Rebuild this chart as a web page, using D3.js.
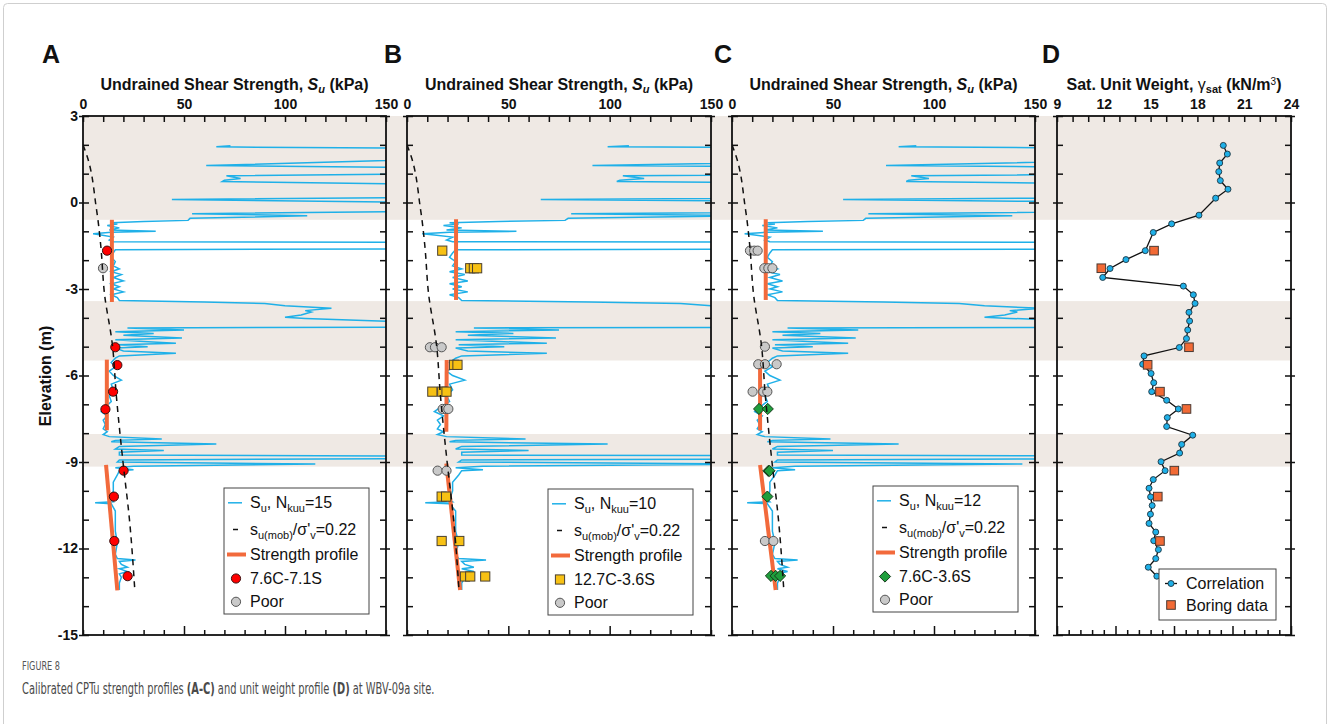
<!DOCTYPE html>
<html lang="en">
<head>
<meta charset="utf-8">
<title>WBV-09a - calibrated CPTu strength profiles</title>
<script type="text/javascript" src="https://cdnjs.cloudflare.com/ajax/libs/d3/7.8.5/d3.min.js"></script>
<style>

body {
  margin: 0;
  background-color: #fff;
}

svg text {
  font-family: "Liberation Sans", Arial, sans-serif;
  fill: #111;
}

.title {
  font-size: 16px;
  font-weight: bold;
}

.tick text {
  font-size: 14px;
  font-weight: bold;
}

.tick line {
  stroke: #111;
  stroke-width: 1.5;
}

.legend text {
  font-size: 16px;
}

.caption text, text.caption {
  font-family: "Liberation Sans Narrow", "DejaVu Sans Condensed", sans-serif;
}

</style>
</head>
<body>

<div id="chart"></div>

<script type="text/javascript">

// elevation (m) and the soft layers shaded in grey
var elevTicks = d3.range(3, -15.5, -1);
var softBands = [[3, -0.6], [-3.42, -5.48], [-8.03, -9.16]];

// Su ticks (kPa) and unit weight ticks (kN/m3)
var suTicks = d3.range(0, 151, 10);
var gammaTicks = d3.range(9, 24.5, 1);

// Nkuu used in each of the panels A-C, and the boring labels
var nkuu = [15, 10, 12];
var boringLabels = ["7.6C-7.1S", "12.7C-3.6S", "7.6C-3.6S"];

// CPTu Su profile read at Nkuu = 15 : [elevation, Su]
var nkuuRef = 15;
var suRef = [
  [1.97, 73], [1.93, 66], [1.86, 200],
  [1.55, 200], [1.28, 61], [1.19, 200],
  [1.01, 200], [0.93, 71], [0.83, 78], [0.77, 70], [0.73, 69], [0.6, 200],
  [0.2, 200], [0.1, 44], [-0.02, 200],
  [-0.28, 200], [-0.39, 54], [-0.46, 111], [-0.55, 53], [-0.62, 52], [-0.66, 30], [-0.7, 14],
  [-0.75, 17], [-0.8, 12], [-0.88, 18], [-0.95, 13], [-1.0, 36], [-1.03, 14], [-1.08, 5], [-1.13, 9],
  [-1.2, 15], [-1.3, 13], [-1.36, 15], [-1.39, 200],
  [-1.6, 200], [-1.64, 16], [-1.75, 15], [-1.9, 14], [-2.05, 16], [-2.2, 15], [-2.3, 18], [-2.4, 14],
  [-2.5, 19], [-2.6, 15], [-2.72, 20], [-2.82, 14], [-2.92, 18], [-3.0, 15], [-3.1, 20], [-3.2, 14], [-3.3, 17],
  [-3.4, 18], [-3.45, 60], [-3.5, 90], [-3.58, 100], [-3.67, 123], [-3.75, 110], [-3.8, 113], [-3.9, 108],
  [-3.98, 100], [-4.02, 110], [-4.25, 200],
  [-4.32, 200], [-4.35, 22], [-4.42, 50], [-4.48, 16], [-4.54, 35], [-4.6, 20], [-4.7, 49], [-4.76, 16],
  [-4.82, 30], [-4.88, 46], [-4.93, 17], [-5.0, 32], [-5.05, 16], [-5.15, 20], [-5.23, 46], [-5.32, 18], [-5.4, 16],
  [-5.55, 14], [-5.7, 16], [-5.85, 13], [-6.0, 15], [-6.16, 19], [-6.3, 14], [-6.5, 15], [-6.7, 13], [-6.9, 14],
  [-7.1, 11], [-7.25, 9], [-7.4, 12], [-7.55, 10], [-7.7, 11], [-7.85, 10], [-7.95, 12],
  [-8.05, 10], [-8.12, 13], [-8.2, 39], [-8.25, 16], [-8.3, 14], [-8.38, 66], [-8.46, 18], [-8.55, 16],
  [-8.6, 40], [-8.66, 18], [-8.76, 18], [-8.8, 200], [-8.87, 200], [-8.93, 18], [-9.0, 17], [-9.07, 115],
  [-9.15, 25], [-9.2, 16],
  [-9.27, 25], [-9.3, 18], [-9.45, 17], [-9.7, 15], [-10.0, 15], [-10.3, 14], [-10.38, 15], [-10.41, 6],
  [-10.45, 14], [-10.7, 16], [-11.0, 16], [-11.4, 16], [-11.8, 17], [-12.2, 16], [-12.35, 17], [-12.4, 26],
  [-12.45, 18], [-12.55, 19], [-12.65, 22], [-12.7, 18], [-12.8, 22], [-12.88, 18], [-13.0, 19], [-13.2, 18], [-13.44, 18]
];

// su(mob)/sigma'v = 0.22 : [elevation, Su]
var suMob = [
  [2.0, 0], [1.5, 2.5], [1.0, 4.2], [0.5, 5.3], [0, 6.2], [-0.6, 7.4], [-1.5, 8.8], [-3.2, 10.7],
  [-4.9, 14.5], [-6.7, 16.5], [-7.8, 18], [-9.0, 19.8], [-11.0, 23], [-13.5, 25.7]
];

// strength profile segments : [[elev, Su], [elev, Su]]
var profileA = [[[-0.6, 14.3], [-3.45, 14.3]], [[-5.45, 11.8], [-7.9, 11.8]], [[-9.1, 11.4], [-13.45, 17]]];
var profileB = [[[-0.58, 24.2], [-3.38, 24.2]], [[-5.46, 19.6], [-7.95, 19.4]], [[-9.05, 19.4], [-13.44, 26.2]]];
var profileC = [[[-0.58, 16.7], [-3.38, 16.7]], [[-5.46, 13.9], [-7.9, 13.9]], [[-9.1, 13.9], [-13.44, 21.6]]];

// lab Su from borings : [elevation, Su]
var goodA = [[-1.67, 11.9], [-5.02, 16], [-5.64, 17], [-6.56, 14.9], [-7.17, 11.1], [-9.3, 20.1], [-10.2, 15.3], [-11.74, 15.5], [-12.96, 22.1]];
var poorA = [[-2.28, 9.9]];
var goodB = [[-1.67, 17.4], [-2.28, 31.2], [-2.28, 33], [-2.28, 34.6], [-5.63, 23.2], [-5.63, 24.9], [-6.56, 12.5], [-6.56, 17.4],
  [-6.56, 19.5], [-10.2, 17.1], [-10.2, 19.3], [-11.74, 17.1], [-11.74, 25.8], [-12.97, 28.6], [-12.97, 31.2], [-12.97, 38.6]];
var poorB = [[-5.02, 11.3], [-5.02, 13.8], [-5.02, 17.1], [-7.16, 17.6], [-7.16, 19.3], [-7.16, 20.4], [-9.3, 15.1], [-9.3, 19.5]];
var goodC = [[-7.16, 13.4], [-7.16, 17.7], [-9.31, 18], [-9.31, 18.6], [-10.2, 17.5], [-12.95, 19.3], [-12.95, 21.6], [-12.95, 23.8]];
var poorC = [[-1.67, 8.9], [-1.67, 11], [-1.67, 12.7], [-2.28, 16], [-2.28, 18], [-2.28, 20], [-5.0, 16.3], [-5.61, 13],
  [-5.61, 16.3], [-5.61, 22.1], [-6.56, 10.2], [-6.56, 15.5], [-6.56, 17.5], [-11.74, 16.3], [-11.74, 20.5]];

// saturated unit weight : [elevation, gamma]
var gammaCorr = [
  [1.98, 19.66], [1.68, 19.92], [1.37, 19.43], [1.07, 19.37], [0.76, 19.47], [0.46, 19.96], [0.15, 19.17],
  [-0.44, 18.1], [-0.74, 16.35], [-1.04, 15.17], [-1.67, 14.66], [-1.98, 13.42], [-2.29, 12.4], [-2.6, 11.93],
  [-2.9, 17.1], [-3.2, 17.74], [-3.5, 17.85], [-3.81, 17.46], [-4.11, 17.5], [-4.42, 17.38], [-4.72, 17.3],
  [-5.03, 16.84], [-5.32, 14.58], [-5.61, 14.49], [-5.93, 15.03], [-6.25, 15.2], [-6.56, 15.07], [-6.86, 16.03],
  [-7.16, 16.78], [-7.46, 16.07], [-7.77, 16.03], [-8.07, 17.7], [-8.39, 16.99], [-8.69, 16.86], [-8.99, 15.67],
  [-9.3, 15.93], [-9.61, 15.17], [-9.91, 14.9], [-10.21, 15.0], [-10.51, 15.1], [-10.81, 14.99], [-11.13, 14.9],
  [-11.43, 15.33], [-11.73, 15.2], [-12.04, 15.5], [-12.35, 15.33], [-12.65, 14.85], [-12.96, 15.4]
];
var gammaBoring = [[-1.67, 15.22], [-2.28, 11.84], [-5.02, 17.46], [-5.63, 14.81], [-6.56, 15.6], [-7.16, 17.3], [-9.3, 16.52], [-10.2, 15.46], [-11.74, 15.6]];


var width = 1330,
    height = 724;

var plotTop = 116, plotBottom = 635;

var svg = d3.select("#chart").append("svg")
    .attr("width", width)
    .attr("height", height);

svg.append("rect")
    .attr("x", 3.5)
    .attr("y", 3.5)
    .attr("width", width - 7)
    .attr("height", height + 20)
    .attr("rx", 4)
    .style("fill", "none")
    .style("stroke", "#cfcfcf");

var y = d3.scaleLinear().domain([3, -15]).range([plotTop, plotBottom]);

var colors = {
    su: "#1fb0e8",
    profile: "#f26a3c",
    band: "#efe9e4",
    poor: "#c9c9c9",
};

// shaded soft layers run across all four panels
svg.append("g").selectAll("rect")
    .data(softBands)
    .enter().append("rect")
        .attr("x", 83)
        .attr("width", 1291 - 83)
        .attr("y", function(d) { return y(d[0]); })
        .attr("height", function(d) { return y(d[1]) - y(d[0]); })
        .style("fill", colors.band);

function styleAxis(g) {
    g.select(".domain").remove();
}

function drawFrame(g, x, left, right, topValues, topMajor, bottomValues, bottomMajor, showElev) {
    var xTop = g.append("g")
        .attr("transform", "translate(0," + plotTop + ")")
        .call(d3.axisTop(x).tickValues(topValues).tickSize(-6).tickPadding(7)
            .tickFormat(function(d) { return topMajor(d) ? d : ""; }))
        .call(styleAxis);

    var xBottom = g.append("g")
        .attr("transform", "translate(0," + plotBottom + ")")
        .call(d3.axisBottom(x).tickValues(bottomValues).tickSize(-6).tickFormat(""))
        .call(styleAxis);
    xBottom.selectAll(".tick line")
        .attr("y2", function(d, i) { return bottomMajor(d, i) ? -9 : -5; });

    var yLeft = g.append("g")
        .attr("transform", "translate(" + left + ",0)")
        .call(d3.axisLeft(y).tickValues(elevTicks).tickSize(-6).tickPadding(5)
            .tickFormat(function(d) { return showElev && d % 3 == 0 ? d : ""; }))
        .call(styleAxis);
    yLeft.selectAll(".tick line")
        .attr("x1", function(d) { return d % 3 == 0 ? -4 : 0; });

    var yRight = g.append("g")
        .attr("transform", "translate(" + right + ",0)")
        .call(d3.axisRight(y).tickValues(elevTicks).tickSize(-6).tickFormat(""))
        .call(styleAxis);
    yRight.selectAll(".tick line")
        .attr("x1", function(d) { return d % 3 == 0 ? 4 : 0; });

    g.selectAll(".tick text").style("fill", "#111");
    g.selectAll("g").attr("font-family", null).attr("font-size", null);

    g.append("rect")
        .attr("x", left)
        .attr("y", plotTop)
        .attr("width", right - left)
        .attr("height", plotBottom - plotTop)
        .style("fill", "none")
        .style("stroke", "#111")
        .style("stroke-width", 1.8);
}

function marker(sel, shape, fill, stroke) {
    if (shape == "circle") {
        sel.append("circle").attr("r", 4.6);
    } else if (shape == "square") {
        sel.append("rect").attr("x", -4.6).attr("y", -4.6).attr("width", 9.2).attr("height", 9.2);
    } else {
        sel.append("path").attr("d", "M0,-5.6L5.6,0L0,5.6L-5.6,0Z");
    }
    sel.selectAll("circle,rect,path")
        .style("fill", fill)
        .style("stroke", stroke)
        .style("stroke-width", 1);
}

var suPanels = [
    {letter: "A", left: 83, right: 386, n: 0, profile: profileA, good: goodA, poor: poorA,
     shape: "circle", fill: "#ff0000", stroke: "#3a1010", legendY: 488},
    {letter: "B", left: 407, right: 711, n: 1, profile: profileB, good: goodB, poor: poorB,
     shape: "square", fill: "#f7c114", stroke: "#4a4030", legendY: 489},
    {letter: "C", left: 732, right: 1035, n: 2, profile: profileC, good: goodC, poor: poorC,
     shape: "diamond", fill: "#1f9e3c", stroke: "#173a1c", legendY: 486},
];

suPanels.forEach(function(p) {
    var x = d3.scaleLinear().domain([0, 150]).range([p.left, p.right]);
    var ratio = nkuuRef / nkuu[p.n];
    var g = svg.append("g").attr("class", "panel");

    g.append("clipPath")
        .attr("id", "clip" + p.letter)
        .append("rect")
            .attr("x", p.left)
            .attr("y", plotTop)
            .attr("width", p.right - p.left)
            .attr("height", plotBottom - plotTop);

    var plot = g.append("g").attr("clip-path", "url(#clip" + p.letter + ")");

    var line = d3.line()
        .x(function(d) { return x(d[1] * ratio); })
        .y(function(d) { return y(d[0]); });

    plot.append("path")
        .datum(suRef)
        .attr("d", line)
        .style("fill", "none")
        .style("stroke", colors.su)
        .style("stroke-width", 1.5);

    var segment = d3.line()
        .x(function(d) { return x(d[1]); })
        .y(function(d) { return y(d[0]); });

    plot.selectAll(".profile")
        .data(p.profile)
        .enter().append("path")
            .attr("class", "profile")
            .attr("d", segment)
            .style("fill", "none")
            .style("stroke", colors.profile)
            .style("stroke-width", 4);

    plot.selectAll(".poor")
        .data(p.poor)
        .enter().append("g")
            .attr("class", "poor")
            .attr("transform", function(d) { return "translate(" + x(d[1]) + "," + y(d[0]) + ")"; })
            .call(marker, "circle", colors.poor, "#555");

    plot.selectAll(".good")
        .data(p.good)
        .enter().append("g")
            .attr("class", "good")
            .attr("transform", function(d) { return "translate(" + x(d[1]) + "," + y(d[0]) + ")"; })
            .call(marker, p.shape, p.fill, p.stroke);

    plot.append("path")
        .datum(suMob)
        .attr("d", segment.curve(d3.curveMonotoneY))
        .style("fill", "none")
        .style("stroke", "#111")
        .style("stroke-width", 1.5)
        .style("stroke-dasharray", "6,5");

    drawFrame(g, x, p.left, p.right, suTicks,
        function(d) { return d % 50 == 0; },
        suTicks,
        function(d) { return d == 50 || d == 100; },
        p.letter == "A");

    // title
    var title = g.append("text")
        .attr("class", "title")
        .attr("x", (p.left + p.right) / 2)
        .attr("y", 90)
        .attr("text-anchor", "middle");
    title.append("tspan").text("Undrained Shear Strength, ");
    title.append("tspan").style("font-style", "italic").text("S");
    title.append("tspan").style("font-style", "italic").attr("font-size", 11).attr("dy", 3).text("u");
    title.append("tspan").attr("dy", -3).text(" (kPa)");

    // legend
    var lx = p.left + 141, ly = p.legendY;
    var legend = g.append("g").attr("class", "legend").attr("transform", "translate(" + lx + "," + ly + ")");
    legend.append("rect")
        .attr("width", 145)
        .attr("height", 126)
        .style("fill", "#fff")
        .style("stroke", "#444")
        .style("stroke-width", 1);

    var rows = [20.3, 47, 72, 96, 119.3];

    legend.append("line")
        .attr("x1", 4).attr("x2", 18)
        .attr("y1", rows[0] - 5.5).attr("y2", rows[0] - 5.5)
        .style("stroke", colors.su).style("stroke-width", 1.5);
    var t1 = legend.append("text").attr("x", 26).attr("y", rows[0]);
    t1.append("tspan").text("S");
    t1.append("tspan").attr("font-size", 11).attr("dy", 4).text("u");
    t1.append("tspan").attr("dy", -4).text(", N");
    t1.append("tspan").attr("font-size", 11).attr("dy", 4).text("kuu");
    t1.append("tspan").attr("dy", -4).text("=" + nkuu[p.n]);

    legend.append("line")
        .attr("x1", 9).attr("x2", 14)
        .attr("y1", rows[1] - 5.5).attr("y2", rows[1] - 5.5)
        .style("stroke", "#111").style("stroke-width", 1.5);
    var t2 = legend.append("text").attr("x", 26).attr("y", rows[1]);
    t2.append("tspan").text("s");
    t2.append("tspan").attr("font-size", 11).attr("dy", 4).text("u(mob)");
    t2.append("tspan").attr("dy", -4).text("/\u03c3'");
    t2.append("tspan").attr("font-size", 11).attr("dy", 4).text("v");
    t2.append("tspan").attr("dy", -4).text("=0.22");

    legend.append("line")
        .attr("x1", 3).attr("x2", 22)
        .attr("y1", rows[2] - 5.5).attr("y2", rows[2] - 5.5)
        .style("stroke", colors.profile).style("stroke-width", 4);
    legend.append("text").attr("x", 26).attr("y", rows[2]).text("Strength profile");

    legend.append("g")
        .attr("transform", "translate(12," + (rows[3] - 5.5) + ")")
        .call(marker, p.shape, p.fill, p.stroke);
    legend.append("text").attr("x", 26).attr("y", rows[3]).text(boringLabels[p.n]);

    legend.append("g")
        .attr("transform", "translate(12," + (rows[4] - 5.5) + ")")
        .call(marker, "circle", colors.poor, "#555");
    legend.append("text").attr("x", 26).attr("y", rows[4]).text("Poor");
});

// panel D: saturated unit weight
(function() {
    var left = 1057, right = 1291;
    var x = d3.scaleLinear().domain([9, 24]).range([left, right]);
    var g = svg.append("g").attr("class", "panel");

    var line = d3.line()
        .x(function(d) { return x(d[1]); })
        .y(function(d) { return y(d[0]); });

    g.append("path")
        .datum(gammaCorr)
        .attr("d", line)
        .style("fill", "none")
        .style("stroke", "#111")
        .style("stroke-width", 1.3);

    g.selectAll(".corr")
        .data(gammaCorr)
        .enter().append("circle")
            .attr("class", "corr")
            .attr("cx", function(d) { return x(d[1]); })
            .attr("cy", function(d) { return y(d[0]); })
            .attr("r", 3)
            .style("fill", colors.su)
            .style("stroke", "#1d3440")
            .style("stroke-width", 0.9);

    g.selectAll(".boring")
        .data(gammaBoring)
        .enter().append("rect")
            .attr("class", "boring")
            .attr("x", function(d) { return x(d[1]) - 4.3; })
            .attr("y", function(d) { return y(d[0]) - 4.3; })
            .attr("width", 8.6)
            .attr("height", 8.6)
            .style("fill", "#f26a35")
            .style("stroke", "#4a3a33")
            .style("stroke-width", 1);

    var bottomTicks = d3.range(0, 21).map(function(i) { return 9 + i * 0.75; });

    drawFrame(g, x, left, right, gammaTicks,
        function(d) { return d % 3 == 0; },
        bottomTicks,
        function(d, i) { return i % 5 == 0; },
        false);

    var title = g.append("text")
        .attr("class", "title")
        .attr("x", (left + right) / 2)
        .attr("y", 90)
        .attr("text-anchor", "middle");
    title.append("tspan").text("Sat. Unit Weight, ");
    title.append("tspan").style("font-weight", "normal").text("\u03b3");
    title.append("tspan").attr("font-size", 11).attr("dy", 3).text("sat");
    title.append("tspan").attr("dy", -3).text(" (kN/m");
    title.append("tspan").attr("font-size", 10).attr("dy", -5).style("font-weight", "normal").text("3");
    title.append("tspan").attr("dy", 5).text(")");

    var legend = g.append("g").attr("class", "legend").attr("transform", "translate(1159,569)");
    legend.append("rect")
        .attr("width", 117)
        .attr("height", 51)
        .style("fill", "#fff")
        .style("stroke", "#444")
        .style("stroke-width", 1);
    legend.append("line")
        .attr("x1", 6).attr("x2", 18)
        .attr("y1", 14.5).attr("y2", 14.5)
        .style("stroke", "#111").style("stroke-width", 1.3);
    legend.append("circle")
        .attr("cx", 12).attr("cy", 14.5).attr("r", 3)
        .style("fill", colors.su).style("stroke", "#1d3440").style("stroke-width", 0.9);
    legend.append("text").attr("x", 27).attr("y", 20.3).text("Correlation");
    legend.append("rect")
        .attr("x", 7.7).attr("y", 31.7).attr("width", 8.6).attr("height", 8.6)
        .style("fill", "#f26a35").style("stroke", "#4a3a33").style("stroke-width", 1);
    legend.append("text").attr("x", 27).attr("y", 41.7).text("Boring data");
})();

// panel letters
svg.selectAll(".letter")
    .data([["A", 42], ["B", 384], ["C", 714], ["D", 1042]])
    .enter().append("text")
        .attr("class", "letter")
        .attr("x", function(d) { return d[1]; })
        .attr("y", 63)
        .style("font-size", "25px")
        .style("font-weight", "bold")
        .text(function(d) { return d[0]; });

svg.append("text")
    .attr("transform", "translate(51,376) rotate(-90)")
    .attr("text-anchor", "middle")
    .style("font-size", "16px")
    .style("font-weight", "bold")
    .text("Elevation (m)");

// caption, squeezed horizontally to the narrow journal face
function fitWidth(text, x, baseline, targetWidth) {
    var natural = text.node().getComputedTextLength();
    text.attr("transform", "translate(" + x + "," + baseline + ") scale(" + (targetWidth / natural) + ",1)");
}

var figLabel = svg.append("text")
    .attr("class", "caption")
    .style("font-size", "12px")
    .style("fill", "#555")
    .text("FIGURE 8");
fitWidth(figLabel, 22, 670, 38);

var caption = svg.append("text")
    .attr("class", "caption")
    .style("font-size", "15px")
    .style("fill", "#4a4a4a");
caption.append("tspan").text("Calibrated CPTu strength profiles ");
caption.append("tspan").style("font-weight", "bold").style("fill", "#4a4a4a").text("(A-C)");
caption.append("tspan").text(" and unit weight profile ");
caption.append("tspan").style("font-weight", "bold").style("fill", "#4a4a4a").text("(D)");
caption.append("tspan").text(" at WBV-09a site.");
fitWidth(caption, 22, 694, 413);

</script>

</body>
</html>
